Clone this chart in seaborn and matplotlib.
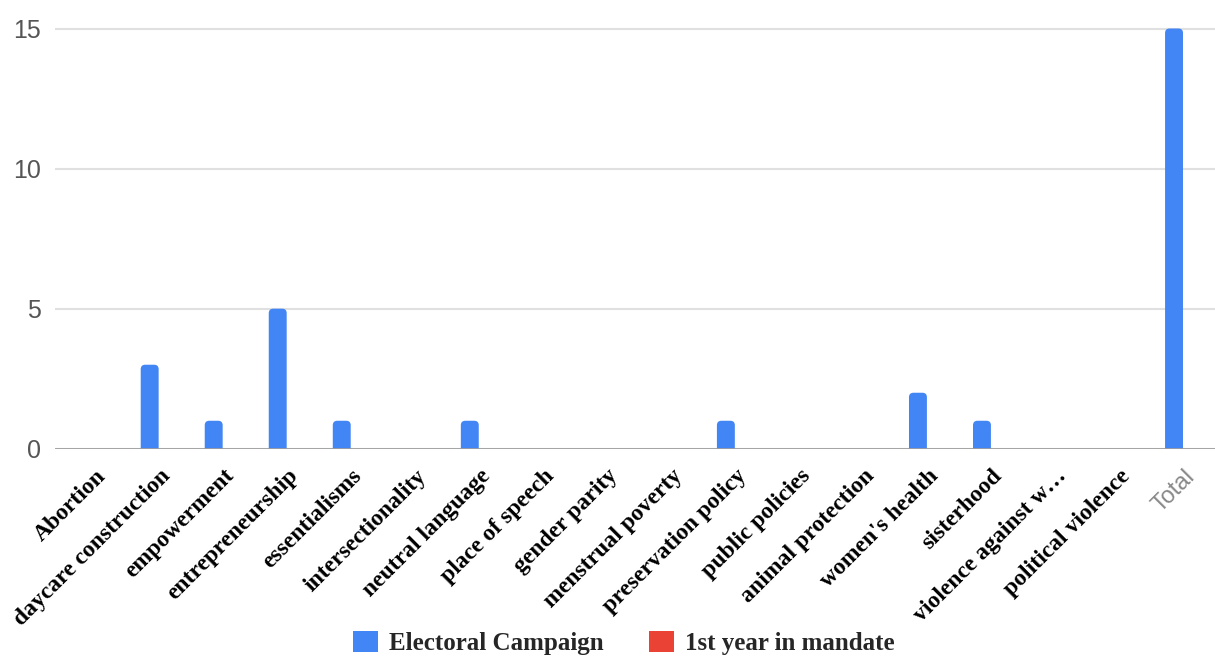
import pandas as pd
import matplotlib
matplotlib.use('Agg')
import matplotlib.pyplot as plt
import matplotlib.transforms as mtransforms
import seaborn as sns
from matplotlib.patches import Patch, FancyBboxPatch

temas = ['Abortion', 'daycare construction', 'empowerment', 'entrepreneurship',
         'essentialisms', 'intersectionality', 'neutral language', 'place of speech',
         'gender parity', 'menstrual poverty', 'preservation policy', 'public policies',
         'animal protection', "women's health", 'sisterhood', 'violence against w…',
         'political violence', 'Total']
campanha = [0, 3, 1, 5, 1, 0, 1, 0, 0, 0, 1, 0, 0, 2, 1, 0, 0, 15]
mandato = [0] * 18
series = ['Electoral Campaign', '1st year in mandate']
cores = ['#4285F4', '#EA4335']

df = pd.DataFrame({
    'Tema': temas * 2,
    'Valor': campanha + mandato,
    'Serie': [series[0]] * len(temas) + [series[1]] * len(temas),
})

sns.set_style('white')
fig = plt.figure(figsize=(12.15, 6.59), dpi=100)
ax = fig.add_axes([0.045, 0.319, 0.955, 0.659])

# red series is all zero, so the bars can share the slot
sns.barplot(data=df, x='Tema', y='Valor', hue='Serie', palette=cores,
            width=0.28, dodge=False, saturation=1, legend=False, ax=ax, zorder=3)

ax.set_ylim(0, 15.5)
ax.set_xlim(-0.484, 17.64)

# rounded tops like google sheets
aspecto = (1160 / (17.64 + 0.484)) / (420 / 15)
for p in list(ax.patches):
    if p.get_height() > 0:
        r = FancyBboxPatch((p.get_x(), p.get_y() - 0.3), p.get_width(), p.get_height() + 0.3,
                           boxstyle='round,pad=0,rounding_size=0.07',
                           mutation_aspect=aspecto, facecolor=p.get_facecolor(),
                           edgecolor='none', zorder=3)
        ax.add_patch(r)
    p.set_visible(False)

ax.set_yticks([0, 5, 10, 15])
ax.yaxis.grid(True, color='#e0e0e0', linewidth=1.5, zorder=0)
ax.axhline(0, color='#9e9e9e', linewidth=2, zorder=4)
for s in ax.spines.values():
    s.set_visible(False)
ax.tick_params(axis='y', length=0, pad=10, labelsize=18, labelcolor='#555555')
ax.tick_params(axis='x', length=0, pad=12)
for t in ax.get_yticklabels():
    t.set_family('Liberation Sans')
ax.set_xlabel('')
ax.set_ylabel('')

ax.set_xticks(range(len(temas)))
ax.set_xticklabels(temas, rotation=45, ha='right', rotation_mode='anchor')
desloc = mtransforms.ScaledTranslation(7 / 72, 0, fig.dpi_scale_trans)
for t in ax.get_xticklabels():
    t.set_transform(t.get_transform() + desloc)
    if t.get_text() == 'Total':
        t.set_family('Liberation Sans')
        t.set_color('#888888')
        t.set_fontsize(17)
    else:
        t.set_family('Liberation Serif')
        t.set_fontweight('bold')
        t.set_color('black')
        t.set_fontsize(17)

handles = [Patch(facecolor=c, edgecolor='none') for c in cores]
fig.legend(handles, series, loc='center', ncol=2, frameon=False,
           bbox_to_anchor=(0.5136, 0.024), handlelength=1.0, handleheight=0.9,
           handletextpad=0.45, columnspacing=1.8,
           prop={'family': 'Liberation Serif', 'weight': 'bold', 'size': 18})

fig.savefig('out.png', dpi=100)
